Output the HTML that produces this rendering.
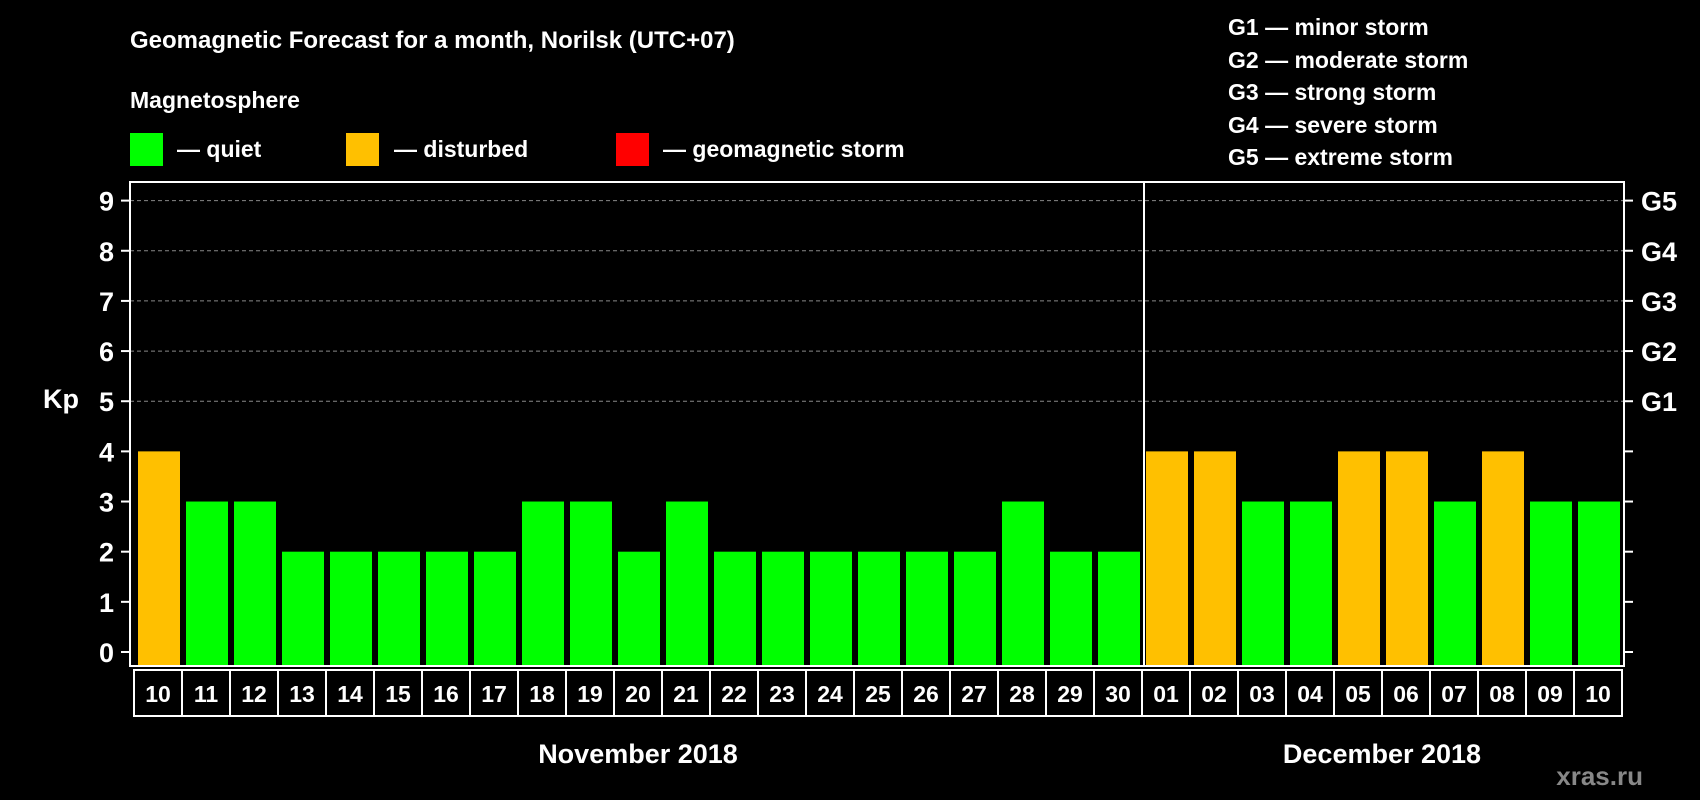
<!DOCTYPE html>
<html><head><meta charset="utf-8"><style>
html,body{margin:0;padding:0;background:#000;}
svg{display:block;font-family:"Liberation Sans",Arial,sans-serif;font-weight:bold;}
</style></head><body>
<svg id="chart" width="1700" height="800" viewBox="0 0 1700 800" xmlns="http://www.w3.org/2000/svg">
<rect width="1700" height="800" fill="#000"/>
<text x="130" y="48" fill="#fff" font-size="24">Geomagnetic Forecast for a month, Norilsk (UTC+07)</text>
<text x="130" y="108" fill="#fff" font-size="23">Magnetosphere</text>
<rect x="130" y="133" width="33" height="33" fill="#00ff00"/>
<text x="177" y="157" fill="#fff" font-size="23">— quiet</text>
<rect x="346" y="133" width="33" height="33" fill="#ffc000"/>
<text x="394" y="157" fill="#fff" font-size="23">— disturbed</text>
<rect x="616" y="133" width="33" height="33" fill="#ff0000"/>
<text x="663" y="157" fill="#fff" font-size="23">— geomagnetic storm</text>
<g fill="#fff" font-size="23">
<text x="1228" y="35">G1 — minor storm</text>
<text x="1228" y="68">G2 — moderate storm</text>
<text x="1228" y="100">G3 — strong storm</text>
<text x="1228" y="133">G4 — severe storm</text>
<text x="1228" y="165">G5 — extreme storm</text>
</g>
<text x="43" y="408" fill="#fff" font-size="27">Kp</text>
<text x="1643" y="785" fill="#888" font-size="26" text-anchor="end">xras.ru</text>
<g id="grid"></g><g id="bars"></g><g id="axes"></g>
</svg>
<script>
const days = ["10","11","12","13","14","15","16","17","18","19","20","21","22","23","24","25","26","27","28","29","30","01","02","03","04","05","06","07","08","09","10"];
const kpValues = [4,3,3,2,2,2,2,2,3,3,2,3,2,2,2,2,2,2,3,2,2,4,4,3,3,4,4,3,4,3,3];
const yTicks = [0,1,2,3,4,5,6,7,8,9];
const gLabels = ["G1","G2","G3","G4","G5"];
const months = ["November 2018","December 2018"];

const NS="http://www.w3.org/2000/svg";
const L=130,R=1624,T=182,B=666,Y0=652,Y9=200.6,BX=134,PITCH=48,BW=42;
const y=v=>Y0-(Y0-Y9)*v/9;
const x=i=>BX+i*PITCH;
function mk(tag,attrs,parent,txt){const e=document.createElementNS(NS,tag);for(const k in attrs)e.setAttribute(k,attrs[k]);if(txt!==undefined)e.textContent=txt;document.getElementById(parent).appendChild(e);return e;}
yTicks.forEach(v=>{
  if(v>=5){const g=mk('line',{x1:L,x2:R,y1:y(v),y2:y(v),stroke:'#888','stroke-width':1,'stroke-dasharray':'4,3'},'grid');
  
  }
  const t=mk('line',{x1:L-9,x2:L,y1:y(v),y2:y(v),stroke:'#fff','stroke-width':2},'axes');
  
  
  const t2=mk('line',{x1:R,x2:R+9,y1:y(v),y2:y(v),stroke:'#fff','stroke-width':2},'axes');
  
  
  const lb=mk('text',{x:114,y:y(v)+10,fill:'#fff','font-size':27,'text-anchor':'end'},'axes',String(v));
  
  
});
gLabels.forEach((g,i)=>{
  const lb=mk('text',{x:1641,y:y(5+i)+10,fill:'#fff','font-size':27},'axes',g);
  
  
});
kpValues.forEach((v,i)=>{
  const col=v>=5?'#ff0000':(v>=4?'#ffc000':'#00ff00');
  const b=mk('rect',{x:x(i)+4,y:y(v),width:BW,height:B-y(v)-1,fill:col},'bars');
  
  
  const c=mk('rect',{x:x(i),y:B+4,width:PITCH,height:46,fill:'none',stroke:'#fff','stroke-width':2},'axes');
  
  
  const t=mk('text',{x:x(i)+PITCH/2,y:B+36,fill:'#fff','font-size':23,'text-anchor':'middle'},'axes',days[i]);
  
  
});
const fr=mk('rect',{x:L,y:T,width:R-L,height:B-T,fill:'none',stroke:'#fff','stroke-width':2},'axes');


const split=days.indexOf("01");
const dv=mk('line',{x1:x(split)+2,x2:x(split)+2,y1:T,y2:B,stroke:'#fff','stroke-width':2},'axes');


const m1=mk('text',{x:(x(0)+x(split))/2,y:763,fill:'#fff','font-size':27,'text-anchor':'middle'},'axes',months[0]);


const m2=mk('text',{x:(x(split)+x(days.length))/2,y:763,fill:'#fff','font-size':27,'text-anchor':'middle'},'axes',months[1]);


</script>
</body></html>
